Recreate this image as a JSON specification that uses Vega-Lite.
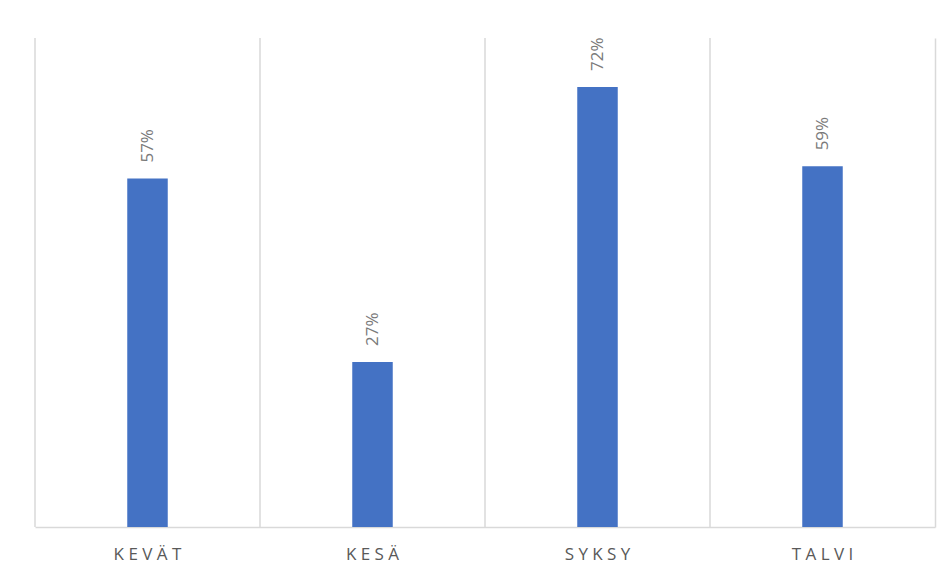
{
  "$schema": "https://vega.github.io/schema/vega-lite/v6.json",
  "autosize": {"type": "none"},
  "width": 900,
  "height": 489,
  "padding": {"left": 35, "top": 38, "right": 15, "bottom": 46},
  "background": "#ffffff",
  "config": {
    "view": {"stroke": null},
    "font": "Open Sans"
  },
  "data": {
    "values": [
      {"kausi": "KEVÄT", "osuus": 0.57},
      {"kausi": "KESÄ", "osuus": 0.27},
      {"kausi": "SYKSY", "osuus": 0.72},
      {"kausi": "TALVI", "osuus": 0.59}
    ]
  },
  "encoding": {
    "x": {
      "field": "kausi",
      "type": "nominal",
      "sort": null,
      "scale": {"paddingInner": 0, "paddingOuter": 0},
      "axis": {
        "title": null,
        "grid": false,
        "ticks": false,
        "domainColor": "#d9d9d9",
        "domainWidth": 1.5,
        "labelAngle": 0,
        "labelFont": "Open Sans",
        "labelFontSize": 17,
        "labelColor": "#595959",
        "labelPadding": 19,
        "labelExpr": "join(split(datum.label, ''), ' ')"
      }
    },
    "y": {
      "field": "osuus",
      "type": "quantitative",
      "scale": {"domain": [0, 0.8], "nice": false},
      "axis": {
        "orient": "right",
        "title": null,
        "labels": false,
        "ticks": false,
        "grid": false,
        "domain": true,
        "domainColor": "#d9d9d9",
        "domainWidth": 1.5
      }
    }
  },
  "layer": [
    {
      "mark": {"type": "rule", "color": "#d9d9d9", "strokeWidth": 1.5},
      "encoding": {
        "x": {"field": "kausi", "type": "nominal", "sort": null, "bandPosition": 0},
        "y": null
      }
    },
    {
      "mark": {"type": "bar", "color": "#4472C4", "width": {"band": 0.18}}
    },
    {
      "mark": {
        "type": "text",
        "angle": -90,
        "align": "left",
        "baseline": "middle",
        "dx": 16,
        "font": "Open Sans",
        "fontSize": 17,
        "color": "#7a7a7a"
      },
      "encoding": {
        "text": {"field": "osuus", "type": "quantitative", "format": ".0%"}
      }
    }
  ]
}
